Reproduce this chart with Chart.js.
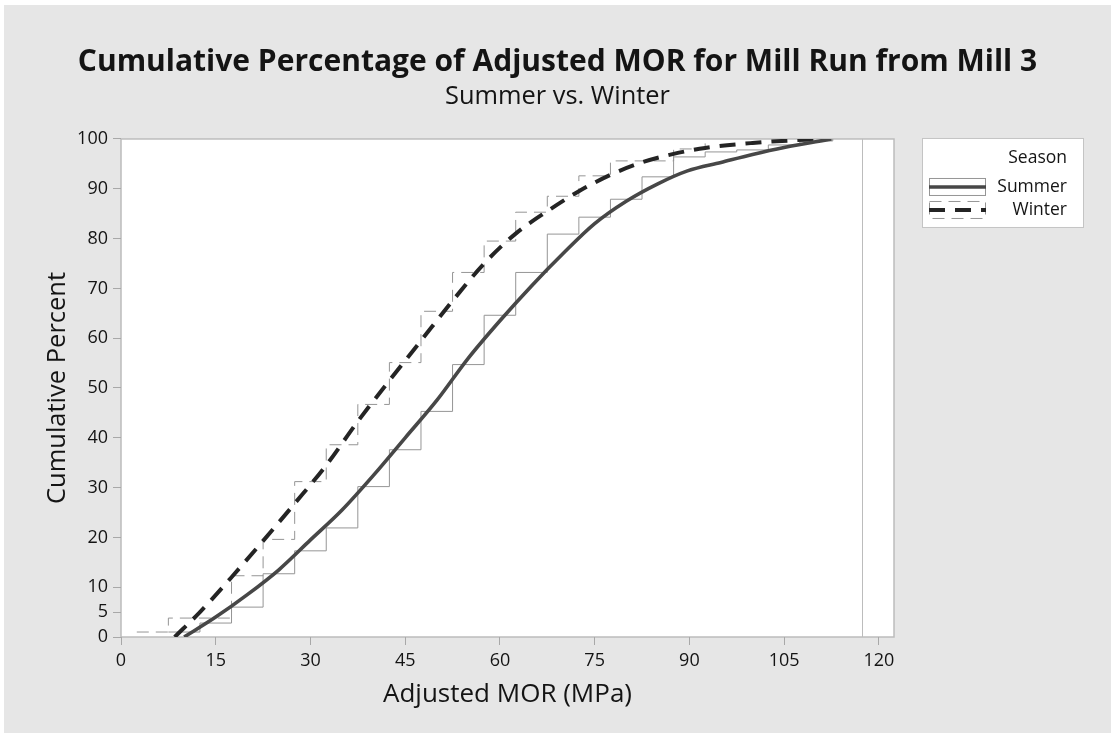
<!DOCTYPE html>
<html>
<head>
<meta charset="utf-8">
<title>Cumulative Percentage of Adjusted MOR</title>
<script src="https://cdn.jsdelivr.net/npm/chart.js@4.4.1/dist/chart.umd.min.js"></script>
<style>
  html, body { margin: 0; padding: 0; background: #ffffff; }
  canvas { display: block; }
</style>
</head>
<body>
<canvas id="cdf-chart" width="1115" height="737"></canvas>
<script>
const chartTitle = "Cumulative Percentage of Adjusted MOR for Mill Run from Mill 3";
const chartSubtitle = "Summer vs. Winter";
const xAxisTitle = "Adjusted MOR (MPa)";
const yAxisTitle = "Cumulative Percent";
const legendTitle = "Season";
const seasons = ["Summer", "Winter"];

const xTicks = [0, 15, 30, 45, 60, 75, 90, 105, 120];
const yTicks = [0, 5, 10, 20, 30, 40, 50, 60, 70, 80, 90, 100];

// empirical steps: MOR where the step happens, cumulative % after it
const summerStepMor = [7.5, 12.5, 17.5, 22.5, 27.5, 32.5, 37.5, 42.5, 47.5, 52.5, 57.5, 62.5, 67.5, 72.5, 77.5, 82.5, 87.5, 92.5, 97.5, 102.5, 107.5, 112.7];
const summerStepPct = [1.0, 2.8, 6.0, 12.7, 17.3, 21.9, 30.2, 37.6, 45.3, 54.7, 64.6, 73.2, 80.9, 84.3, 87.9, 92.4, 96.4, 97.4, 97.8, 98.8, 99.6, 100];
const winterStepMor = [2.5, 7.5, 17.5, 22.5, 27.5, 32.5, 37.5, 42.5, 47.5, 52.5, 57.5, 62.5, 67.5, 72.5, 77.5, 87.5, 92.5];
const winterStepPct = [1.0, 3.8, 12.3, 19.6, 31.2, 38.6, 46.7, 55.1, 65.4, 73.2, 79.5, 85.3, 88.5, 92.6, 95.6, 98.0, 100];

// fitted curves
const summerFitMor = [10, 15, 20, 25, 30, 35, 40, 45, 50, 55, 60, 65, 70, 75, 80, 85, 89.7, 95, 100, 105, 112.5];
const summerFitPct = [0, 4, 8.5, 13.5, 19.5, 25.5, 32.5, 40, 47.5, 56, 63.5, 70.5, 77, 83, 87.5, 91, 93.6, 95.3, 96.9, 98.3, 100];
const winterFitMor = [8.5, 12.5, 17.5, 22.5, 27.5, 32.5, 37.5, 42.5, 47.5, 52.5, 57.5, 62.5, 67.5, 72.5, 77.5, 82.5, 87.5, 92.5, 100, 106, 111];
const winterFitPct = [0, 5, 12, 19.3, 26.8, 34.5, 43.3, 51.5, 59.5, 67.5, 75, 81, 85.5, 89.5, 92.8, 95.3, 97, 98.2, 99.2, 99.7, 100];

const xMax = 122.4;
const innerEdgeMor = 117.4;

const fontFamily = "'Open Sans', 'Noto Sans', sans-serif";
const textColor = "#141414";

const toPoints = (xs, ys) => xs.map((x, i) => ({ x: x, y: ys[i] }));

const fitStyles = [
  { color: "#474747", width: 3.6, dash: [] },
  { color: "#242424", width: 4, dash: [16, 10] }
];
const stepStyles = [
  { color: "#959595", width: 1, dash: [] },
  { color: "#959595", width: 1, dash: [12, 7] }
];

// white plot area with a grey frame
const plotFrame = {
  id: "plotFrame",
  beforeDraw(chart) {
    const { ctx, chartArea: a, scales } = chart;
    ctx.save();
    ctx.fillStyle = "#ffffff";
    ctx.fillRect(0, 0, chart.width, chart.height);
    ctx.fillStyle = "#e6e6e6";
    ctx.fillRect(4, 5, chart.width - 8, chart.height - 9);
    ctx.fillStyle = "#ffffff";
    ctx.fillRect(a.left, a.top, a.right - a.left, a.bottom - a.top);
    ctx.strokeStyle = "#bcbcbc";
    ctx.lineWidth = 1.5;
    ctx.strokeRect(a.left, a.top, a.right - a.left, a.bottom - a.top);
    const ex = Math.round(scales.x.getPixelForValue(innerEdgeMor)) + 0.5;
    ctx.lineWidth = 1;
    ctx.beginPath();
    ctx.moveTo(ex, a.top);
    ctx.lineTo(ex, a.bottom);
    ctx.stroke();
    ctx.restore();
  }
};

const seasonLegend = {
  id: "seasonLegend",
  afterDraw(chart) {
    const { ctx, chartArea: a } = chart;
    const left = a.right + 28, top = a.top - 1, w = 161, h = 89;
    ctx.save();
    ctx.fillStyle = "#ffffff";
    ctx.fillRect(left, top, w, h);
    ctx.strokeStyle = "#c4c4c4";
    ctx.lineWidth = 1;
    ctx.strokeRect(left + 0.5, top + 0.5, w, h);
    ctx.font = "17.5px " + fontFamily;
    ctx.fillStyle = textColor;
    ctx.textAlign = "right";
    ctx.textBaseline = "middle";
    ctx.fillText(legendTitle, left + 145, top + 20);
    seasons.forEach((name, i) => {
      const y = top + 49 + i * 23;
      ctx.fillStyle = textColor;
      ctx.fillText(name, left + 145, y);
      const st = stepStyles[i], ft = fitStyles[i];
      ctx.setLineDash(st.dash);
      ctx.strokeStyle = st.color;
      ctx.lineWidth = st.width;
      ctx.strokeRect(left + 7.5, y - 8.5, 56, 17);
      ctx.setLineDash(ft.dash);
      ctx.strokeStyle = ft.color;
      ctx.lineWidth = ft.width;
      ctx.beginPath();
      ctx.moveTo(left + 7, y);
      ctx.lineTo(left + 64, y);
      ctx.stroke();
    });
    ctx.restore();
  }
};

const datasets = [
  {
    label: seasons[0] + " fit",
    data: toPoints(summerFitMor, summerFitPct),
    borderColor: fitStyles[0].color,
    borderWidth: fitStyles[0].width,
    borderDash: fitStyles[0].dash,
    cubicInterpolationMode: "monotone"
  },
  {
    label: seasons[1] + " fit",
    data: toPoints(winterFitMor, winterFitPct),
    borderColor: fitStyles[1].color,
    borderWidth: fitStyles[1].width,
    borderDash: fitStyles[1].dash,
    cubicInterpolationMode: "monotone"
  },
  {
    label: seasons[0],
    data: toPoints(summerStepMor, summerStepPct),
    borderColor: stepStyles[0].color,
    borderWidth: stepStyles[0].width,
    borderDash: stepStyles[0].dash,
    stepped: "before"
  },
  {
    label: seasons[1],
    data: toPoints(winterStepMor, winterStepPct),
    borderColor: stepStyles[1].color,
    borderWidth: stepStyles[1].width,
    borderDash: stepStyles[1].dash,
    stepped: "before"
  }
];

new Chart(document.getElementById("cdf-chart"), {
  type: "scatter",
  data: { datasets: datasets },
  options: {
    responsive: false,
    animation: false,
    devicePixelRatio: 1,
    showLine: true,
    elements: { point: { radius: 0, hoverRadius: 0 }, line: { fill: false, borderCapStyle: "butt" } },
    layout: { padding: { top: 0, right: 0, bottom: 0, left: 0 } },
    plugins: {
      legend: { display: false },
      tooltip: { enabled: false },
      title: {
        display: true,
        text: chartTitle,
        color: textColor,
        font: { family: fontFamily, size: 30, weight: "bold" },
        padding: { top: 44, bottom: 2 }
      },
      subtitle: {
        display: true,
        text: chartSubtitle,
        color: textColor,
        font: { family: fontFamily, size: 25.4 },
        padding: { top: 0, bottom: 26.5 }
      }
    },
    scales: {
      x: {
        type: "linear",
        min: 0,
        max: xMax,
        afterBuildTicks: (axis) => { axis.ticks = xTicks.map((v) => ({ value: v })); },
        afterFit: (scale) => { scale.height = 100; },
        border: { display: false },
        grid: { drawOnChartArea: false, drawTicks: true, tickLength: 8, color: "#a8a8a8" },
        ticks: { color: textColor, font: { family: fontFamily, size: 18 }, padding: 5, maxRotation: 0, autoSkip: false },
        title: { display: true, text: xAxisTitle, color: textColor, font: { family: fontFamily, size: 26 }, padding: { top: 0, bottom: 26.4 } }
      },
      y: {
        type: "linear",
        min: 0,
        max: 100,
        afterBuildTicks: (axis) => { axis.ticks = yTicks.map((v) => ({ value: v })); },
        afterFit: (scale) => { scale.width = 121; },
        border: { display: false },
        grid: { drawOnChartArea: false, drawTicks: true, tickLength: 8, color: "#a8a8a8" },
        ticks: { color: textColor, font: { family: fontFamily, size: 18 }, padding: 5, autoSkip: false },
        title: { display: true, text: yAxisTitle, color: textColor, font: { family: fontFamily, size: 25.5 }, padding: { top: 42.7, bottom: 0 } }
      },
      // empty right-hand scale that keeps room for the season legend
      spacer: {
        type: "linear",
        position: "right",
        display: true,
        afterFit: (scale) => { scale.width = 221; },
        border: { display: false },
        grid: { display: false },
        ticks: { display: false }
      }
    }
  },
  plugins: [plotFrame, seasonLegend]
});
</script>
</body>
</html>
